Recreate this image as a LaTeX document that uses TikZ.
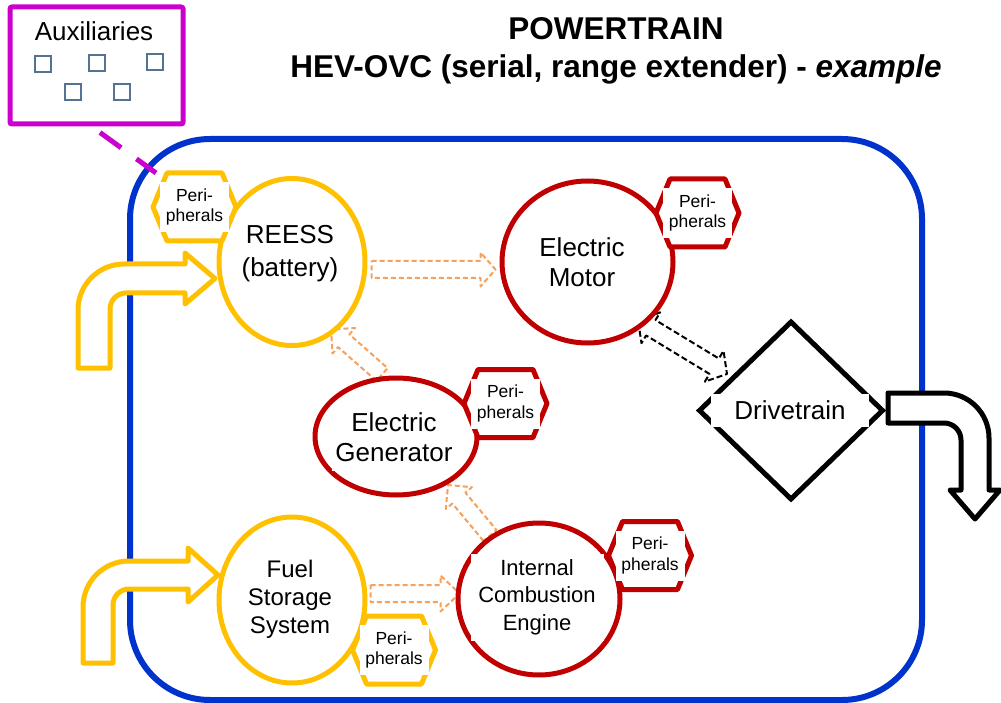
\documentclass[tikz,border=0pt]{standalone}
\usepackage{fontspec}
\setmainfont{Liberation Sans}
\usetikzlibrary{calc,shapes.geometric,backgrounds}
\definecolor{ylw}{RGB}{255,192,0}
\definecolor{rd}{RGB}{192,0,0}
\definecolor{bl}{RGB}{0,51,204}
\definecolor{mg}{RGB}{204,0,204}
\definecolor{sq}{RGB}{84,114,148}
\definecolor{org}{RGB}{246,160,90}

% block arrow: #1 style, #2 start, #3 end, #4 shaft half width, #5 head half width, #6 head length
\newcommand\blockarr[6]{%
  \coordinate (#3-nk) at ($(#3)!#6!(#2)$);
  \draw[#1] ($(#2)!#4!90:(#3)$) -- ($(#3-nk)!#4!90:(#3)$) -- ($(#3-nk)!#5!90:(#3)$) -- (#3)
    -- ($(#3-nk)!#5!-90:(#3)$) -- ($(#3-nk)!#4!-90:(#3)$) -- ($(#2)!#4!-90:(#3)$) -- cycle;
}
% double block arrow
\newcommand\dblarr[6]{%
  \coordinate (#2-nk) at ($(#2)!#6!(#3)$);
  \coordinate (#3-nk) at ($(#3)!#6!(#2)$);
  \draw[#1] (#2) -- ($(#2-nk)!#5!90:(#3)$) -- ($(#2-nk)!#4!90:(#3)$) -- ($(#3-nk)!#4!90:(#3)$)
    -- ($(#3-nk)!#5!90:(#3)$) -- (#3) -- ($(#3-nk)!#5!-90:(#3)$) -- ($(#3-nk)!#4!-90:(#3)$)
    -- ($(#2-nk)!#4!-90:(#3)$) -- ($(#2-nk)!#5!-90:(#3)$) -- cycle;
}
% peripherals hexagon: #1 name, #2 x, #3 y, #4 colour
\newcommand\periph[4]{%
  \draw[#4, line width=5pt, line join=round, fill=white]
    ({#2-41.5},{#3}) -- ({#2-27.5},{#3-34}) -- ({#2+27.5},{#3-34}) -- ({#2+41.5},{#3})
    -- ({#2+27.5},{#3+34}) -- ({#2-27.5},{#3+34}) -- cycle;
  \node[pbox] (#1) at (#2,#3) {Peri-\\pherals};
}

\tikzset{
  ell/.style={ellipse, line width=5pt, fill=white, inner sep=0pt},
  lbl/.style={align=center, inner sep=0pt},
  pbox/.style={fill=white, minimum width=69pt, minimum height=50pt, inner sep=0pt,
    align=center, font=\fontsize{17.5}{20.5}\selectfont},
  sqb/.style={draw=sq, line width=2pt, minimum size=16pt, inner sep=0pt},
  orarr/.style={org, line width=2pt, dash pattern=on 5pt off 3pt, fill=white, line join=round},
  bkarr/.style={black, line width=2pt, dash pattern=on 6pt off 3pt, fill=white, line join=round},
  inarr/.style={ylw, line width=5pt, fill=white, line join=round},
}

\begin{document}
\begin{tikzpicture}[x=1pt,y=-1pt]
\useasboundingbox (0,0) rectangle (1001,703);

% components
\node[ell, draw=ylw, minimum width=146pt, minimum height=167pt] (reess) at (292,262) {};
\node[ell, draw=rd, minimum width=171pt, minimum height=162pt] (motor) at (587.5,262) {};
\node[ell, draw=rd, minimum width=162pt, minimum height=117pt] (gen) at (396,436.5) {};
\node[ell, draw=ylw, minimum width=146pt, minimum height=166pt] (fuel) at (292,600) {};
\node[ell, draw=rd, minimum width=162pt, minimum height=152pt] (ice) at (539,599) {};
\node[diamond, draw=black, line width=5pt, fill=white, minimum width=185pt, minimum height=179pt, inner sep=0pt] (drive) at (791,410.5) {};

% labels
\node[lbl, font=\fontsize{26}{33}\selectfont] (reessT) at (290,254) {REESS\\(battery)};
\node[lbl, font=\fontsize{26}{30}\selectfont] (motorT) at (582,262) {Electric\\Motor};
\node[lbl, fill=white, minimum width=124pt, minimum height=67pt, font=\fontsize{26}{30}\selectfont] (genT) at (394,437) {Electric\\Generator};
\node[lbl, font=\fontsize{24}{28}\selectfont] (fuelT) at (290,599) {Fuel\\Storage\\System};
\node[lbl, fill=white, minimum width=133pt, minimum height=87pt, font=\fontsize{22}{27.5}\selectfont] (iceT) at (537,597) {Internal\\Combustion\\Engine};
\node[lbl, fill=white, minimum width=158pt, minimum height=33pt, font=\fontsize{26}{31}\selectfont] (driveT) at (790,410.5) {Drivetrain};

% peripherals
\periph{pR}{194.5}{207}{ylw}
\periph{pM}{697.5}{213}{rd}
\periph{pG}{505.5}{403.5}{rd}
\periph{pF}{394}{650}{ylw}
\periph{pI}{650}{555.5}{rd}

% auxiliaries
\node[draw=mg, line width=5pt, rounded corners=2pt, minimum width=173pt, minimum height=117pt, inner sep=0pt] (aux) at (96.5,65.5) {};
\node[lbl, font=\fontsize{26}{31}\selectfont] (auxT) at (94,31) {Auxiliaries};
\node[sqb] (s1) at (42.5,64.5) {};
\node[sqb] (s2) at (96.5,63) {};
\node[sqb] (s3) at (155,62) {};
\node[sqb] (s4) at (73,92.5) {};
\node[sqb] (s5) at (121.5,92.5) {};

% title
\node[lbl, font=\bfseries\fontsize{31.5}{38}\selectfont] (title) at (616,51)
  {POWERTRAIN\\HEV-OVC (serial, range extender) - \textit{example}};

% arrow end points
\coordinate (a1s) at ($(reess.east)+(4,7.5)$);
\coordinate (a1e) at ($(motor.west)+(-4,7.5)$);
\coordinate (a2s) at ($(gen.north)+(-14,-1)$);
\coordinate (a2e) at ($(reess.south)+(39,-18.5)$);
\coordinate (a3s) at ($(ice.north)+(-49,15)$);
\coordinate (a3e) at ($(gen.center)+(52,48.5)$);
\coordinate (a4s) at ($(fuel.east)+(3,-6.5)$);
\coordinate (a4e) at ($(ice.west)+(4,-5.5)$);
\coordinate (d1) at ($(motor.center)+(50.5,58)$);
\coordinate (d2) at ($(drive.center)+(-64,-36.5)$);
\coordinate (auxc) at (156,173);

\begin{pgfonlayer}{background}
  % powertrain boundary
  \draw[bl, line width=6pt, rounded corners=80pt] (130,139) rectangle (922,700);
  % link to auxiliaries
  \draw[mg, line width=5pt, dash pattern=on 26pt off 19pt] ($(aux.south)+(3.5,6)$) -- (auxc);
  % energy inputs
  \draw[inarr] (78,368) -- (78,310) .. controls (78,284.6) and (98.6,264) .. (124,264)
    -- (185,264) -- (185,253) -- (215,278.5) -- (185,304) -- (185,293) -- (126,293)
    .. controls (117.2,293) and (110,300.2) .. (110,309) -- (110,368) -- cycle;
  \draw[inarr] (83,663) -- (83,607) .. controls (83,581.6) and (103.6,561) .. (129,561)
    -- (188,561) -- (188,548) -- (218,575) -- (188,602) -- (188,589) -- (129,589)
    .. controls (120.2,589) and (113,596.2) .. (113,605) -- (113,663) -- cycle;
  % output
  \draw[black, line width=5pt, fill=white, line join=round] (888,393) -- (944,393)
    .. controls (968.9,393) and (989,413.1) .. (989,438) -- (989,490) -- (1000,490)
    -- (975,519) -- (950,490) -- (961,490) -- (961,440)
    .. controls (961,430.6) and (953.4,423) .. (944,423) -- (888,423) -- cycle;
  % internal flows
  \blockarr{orarr}{a1s}{a1e}{8.5pt}{17pt}{15pt}
  \blockarr{orarr}{a2s}{a2e}{8.5pt}{17pt}{17pt}
  \blockarr{orarr}{a3s}{a3e}{8.5pt}{17pt}{17pt}
  \blockarr{orarr}{a4s}{a4e}{8.5pt}{18pt}{19pt}
  \dblarr{bkarr}{d1}{d2}{9pt}{18pt}{15pt}
\end{pgfonlayer}
\end{tikzpicture}
\end{document}
